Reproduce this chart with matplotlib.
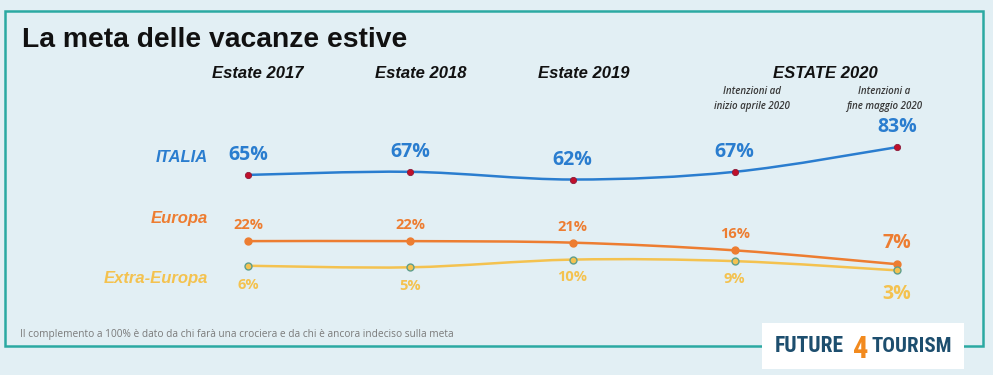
import numpy as np
import matplotlib
matplotlib.use('Agg')
from matplotlib import pyplot as plt
from matplotlib.path import Path
from matplotlib.patches import PathPatch, Rectangle

# data
periodi = ["Estate 2017", "Estate 2018", "Estate 2019", "ESTATE 2020", ""]
sotto_2020 = ["Intenzioni ad\ninizio aprile 2020", "Intenzioni a\nfine maggio 2020"]
italia = [65, 67, 62, 67, 83]
europa = [22, 22, 21, 16, 7]
extra_europa = [6, 5, 10, 9, 3]
serie_nomi = ["ITALIA", "Europa", "Extra-Europa"]
nota = "Il complemento a 100% è dato da chi farà una crociera e da chi è ancora indeciso sulla meta"

W, H = 993, 375
bg = '#E2EFF4'
c_ita = '#2A7DCF'
c_eur = '#ED7D31'
c_ext = '#F4C24F'
sans = ['Open Sans', 'DejaVu Sans']

fig = plt.figure(figsize=(W/100, H/100), dpi=100, facecolor=bg)


def fx(x):
  return x / W


def fy(y):
  return 1 - y / H


# one linear axis for every series; x index 0..4
ax = fig.add_axes([fx(248), fy(275), (897-248)/W, 154/H])
ax.set_xlim(0, 4)
ax.set_ylim(0, 100)
ax.axis('off')

# frame
fig.patches.append(Rectangle((fx(5), fy(346)), (983-5)/W, (346-11)/H, transform=fig.transFigure,
                             fill=False, edgecolor='#2BA9A2', linewidth=1.8))


def smooth(ax, xs, ys, color, lw):
  # catmull-rom through the points, drawn as cubic bezier
  p = np.column_stack([xs, ys]).astype(float)
  pp = np.vstack([p[0], p, p[-1]])
  verts = [p[0]]
  codes = [Path.MOVETO]
  for i in range(len(p)-1):
    c1 = pp[i+1] + (pp[i+2] - pp[i]) / 6.0
    c2 = pp[i+2] - (pp[i+3] - pp[i+1]) / 6.0
    verts += [c1, c2, pp[i+2]]
    codes += [Path.CURVE4]*3
  ax.add_patch(PathPatch(Path(verts, codes), facecolor='none', edgecolor=color,
                         linewidth=lw, clip_on=False, capstyle='round'))


xs = np.arange(len(italia))
smooth(ax, xs, italia, c_ita, 1.8)
smooth(ax, xs, europa, c_eur, 1.8)
smooth(ax, xs, extra_europa, c_ext, 1.8)
ax.plot(xs, italia, 'o', ms=4.5, mfc='#C0102A', mec='#8B1A3A', mew=0.6, clip_on=False)
ax.plot(xs, europa, 'o', ms=5, mfc=c_eur, mec=c_eur, clip_on=False)
ax.plot(xs, extra_europa, 'o', ms=5, mfc=c_ext, mec='#5E9E8C', mew=1.0, clip_on=False)

lab = dict(family=sans, weight='bold', ha='center', va='center',
           textcoords='offset pixels')
for i in range(len(xs)):
  ax.annotate("%d%%" % italia[i], (xs[i], italia[i]), xytext=(0, 20), color=c_ita,
              fontsize=14, **lab)
  big = i == len(xs)-1
  ax.annotate("%d%%" % europa[i], (xs[i], europa[i]), xytext=(0, 21 if big else 16),
              color=c_eur, fontsize=14 if big else 10.5, **lab)
  dy = [-19, -19, -17, -18, -24][i]
  ax.annotate("%d%%" % extra_europa[i], (xs[i], extra_europa[i]), xytext=(0, dy),
              color=c_ext, fontsize=14 if big else 10.5, **lab)

# texts around the chart
fig.text(fx(22), fy(40), "La meta delle vacanze estive", family='Liberation Sans',
         weight='bold', fontsize=20.3, ha='left', va='center', color='#111111')

head_x = [258, 421, 584, 825]
for x, t in zip(head_x, periodi[:4]):
  fig.text(fx(x), fy(73), t, family='Liberation Sans', weight='bold', style='italic',
           fontsize=12, ha='center', va='center', color='#111111')
for x, t in zip([752, 884], sotto_2020):
  fig.text(fx(x), fy(99), t, family=sans, weight='semibold', style='italic',
           fontsize=7, ha='center', va='center', color='#3A3A3A', linespacing=1.45)

for y, t, c in zip([157, 219, 279], serie_nomi, [c_ita, c_eur, c_ext]):
  fig.text(fx(208), fy(y), t, family='Liberation Sans', weight='bold', style='italic',
           fontsize=12, ha='right', va='center', color=c)

fig.text(fx(20), fy(335), nota, family=sans, fontsize=7.3,
         ha='left', va='center', color='#7A7A7A')

# logo
fig.patches.append(Rectangle((fx(762), fy(369)), (964-762)/W, (369-323)/H,
                             transform=fig.transFigure, facecolor='white', edgecolor='none'))
logo = dict(family=['Roboto Condensed', 'Roboto', 'DejaVu Sans'], weight='bold', va='center')
fig.text(fx(775), fy(346), "FUTURE", fontsize=15.5, ha='left', color='#1D4E6E', **logo)
fig.text(fx(861), fy(349), "4", fontsize=22, ha='center', color='#F28A1E', **logo)
fig.text(fx(872), fy(346), "TOURISM", fontsize=15, ha='left', color='#1D4E6E', **logo)

fig.savefig("out.png", dpi=100, facecolor=bg)
